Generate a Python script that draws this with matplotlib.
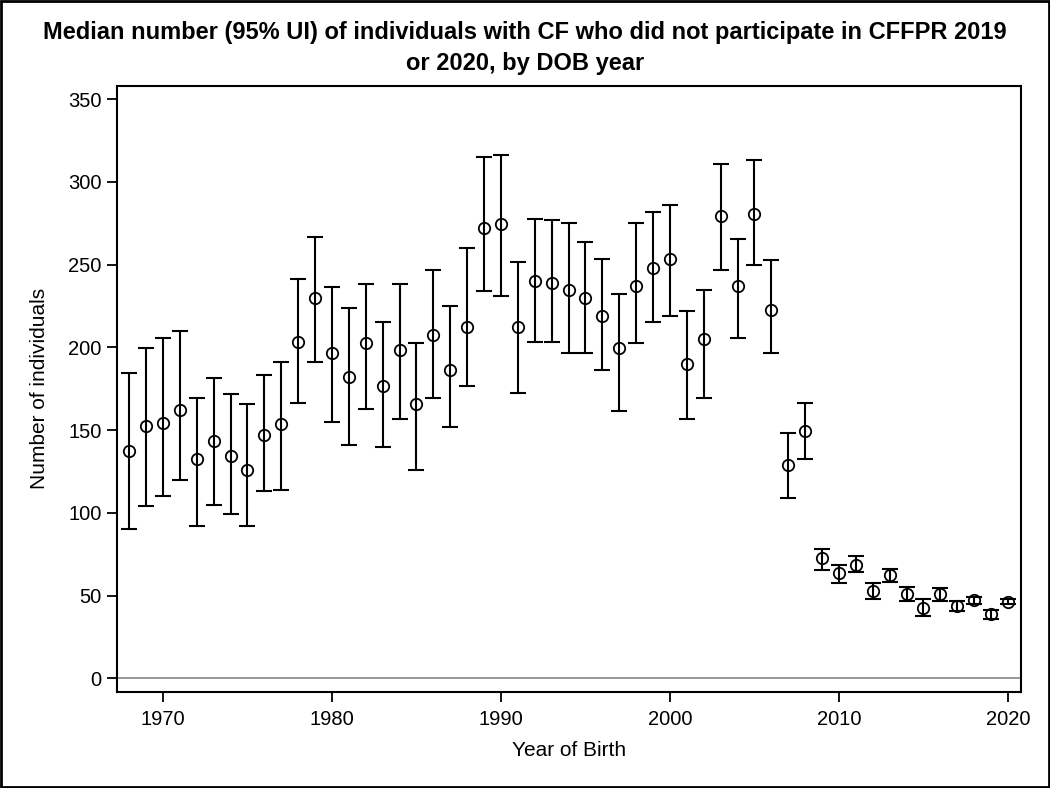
import matplotlib
matplotlib.use("Agg")
import matplotlib.pyplot as plt
from matplotlib.patches import Rectangle
import numpy as np

years = list(range(1968, 2021))
median = [137.3, 152.4, 154.4, 162.4, 132.4, 143.3, 134.4, 125.8, 147.3, 153.4,
          202.9, 229.8, 196.3, 182.1, 202.3, 176.5, 198.2, 165.5, 207.3, 186.2,
          212.3, 272.3, 274.3, 212.0, 239.9, 238.9, 234.9, 229.8, 219.0, 199.3,
          236.9, 248.0, 253.6, 190.2, 204.9, 279.4, 236.9, 280.4, 222.8, 128.8,
          149.3, 72.5, 63.8, 68.4, 52.7, 62.4, 50.9, 42.6, 50.9, 43.7,
          47.3, 38.8, 46.3]
lower = [90.2, 103.9, 109.9, 119.9, 92.0, 105.0, 99.0, 92.0, 112.9, 113.9,
         166.4, 191.2, 154.6, 140.9, 162.6, 139.9, 156.6, 125.8, 169.5, 151.9,
         176.5, 233.9, 231.0, 172.5, 203.3, 203.3, 196.3, 196.3, 186.2, 161.4,
         202.3, 215.0, 219.0, 156.6, 169.5, 246.6, 205.9, 249.6, 196.3, 108.9,
         132.6, 65.4, 57.4, 64.4, 47.7, 58.3, 46.7, 37.6, 46.9, 40.6,
         44.9, 35.6, 44.7]
upper = [184.2, 199.3, 205.9, 209.9, 169.5, 181.2, 172.0, 165.5, 183.2, 191.2,
         241.5, 266.7, 236.5, 223.8, 238.5, 215.0, 238.5, 202.3, 246.6, 225.0,
         259.7, 315.0, 316.0, 251.4, 277.4, 276.8, 275.4, 263.5, 253.6, 232.5,
         275.4, 281.6, 286.2, 221.8, 234.5, 311.0, 265.5, 313.0, 252.6, 148.5,
         166.4, 78.1, 68.4, 74.0, 57.4, 66.2, 55.3, 47.7, 54.3, 46.7,
         49.3, 41.2, 47.9]
xticks = [1970, 1980, 1990, 2000, 2010, 2020]
yticks = [0, 50, 100, 150, 200, 250, 300, 350]

title = "Median number (95% UI) of individuals with CF who did not participate in CFFPR 2019\nor 2020, by DOB year"

plt.rcParams['font.family'] = ['Liberation Sans', 'DejaVu Sans']

fig = plt.figure(figsize=(10.5, 7.88), dpi=100)
ax = fig.add_axes([0.1114, 0.1222, 0.861, 0.7687])

x = np.array(years)
m = np.array(median)
lo = np.array(lower)
up = np.array(upper)

ax.axhline(0, color='#909090', lw=1.3, zorder=1)
ax.errorbar(x, m, yerr=[m - lo, up - m], fmt='none', ecolor='black',
            elinewidth=1.5, capsize=6, capthick=1.5, zorder=2)
ax.plot(x, m, 'o', mfc='none', mec='black', mew=1.3, ms=8.2, zorder=3)

ax.set_xlim(1967.28, 2020.77)
ax.set_ylim(-8.1, 357.9)
ax.set_xticks(xticks)
ax.set_yticks(yticks)
ax.tick_params(axis='both', direction='out', length=7, width=1.3, labelsize=14.5,
               colors='black', pad=4)
ax.tick_params(axis='x', pad=6)
for s in ax.spines.values():
    s.set_linewidth(1.5)
    s.set_color('black')

ax.set_xlabel("Year of Birth", fontsize=15, labelpad=9)
ax.set_ylabel("Number of individuals", fontsize=15, labelpad=14)
fig.text(0.5, 0.939, title, ha='center', va='center', fontsize=17,
         fontweight='bold', linespacing=1.45)

fig.patches.append(Rectangle((0.001, 0.001), 0.998, 0.998, transform=fig.transFigure,
                             fill=False, edgecolor='black', lw=2))

fig.savefig("out.png", dpi=100)
